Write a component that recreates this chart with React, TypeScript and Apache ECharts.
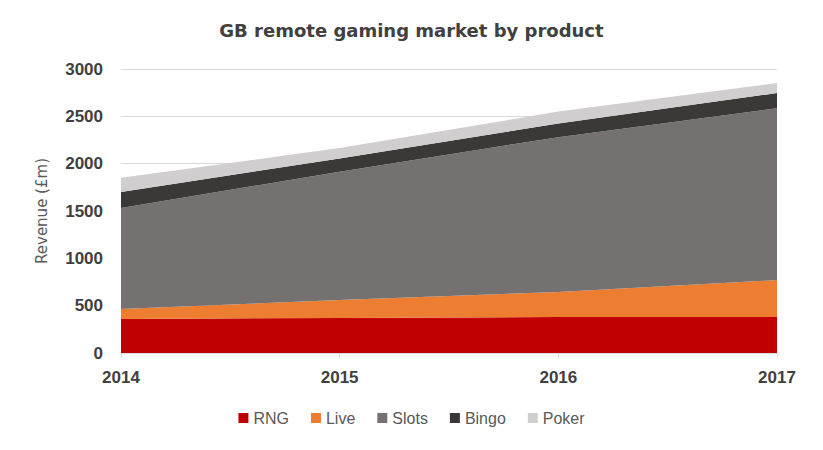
import React, { useEffect, useRef } from "react";
import * as echarts from "echarts";

const years = ["2014", "2015", "2016", "2017"];
const rng = [360, 370, 380, 380];
const live = [105, 190, 265, 390];
const slots = [1066, 1355, 1635, 1816];
const bingo = [170, 140, 145, 160];
const poker = [150, 110, 125, 105];

const seriesNames = ["RNG", "Live", "Slots", "Bingo", "Poker"];
const seriesColors = ["#C00000", "#ED7D31", "#767171", "#3B3838", "#D0CECE"];

export default function App() {
  const ref = useRef<HTMLDivElement>(null);
  useEffect(() => {
    if (!ref.current) return;
    const chart = echarts.init(ref.current, null, { renderer: "svg" });
    const data = [rng, live, slots, bingo, poker];
    chart.setOption({
      animation: false,
      backgroundColor: "#ffffff",
      title: {
        text: "GB remote gaming market by product",
        left: "center",
        top: 8,
        textStyle: {
          fontFamily: "DejaVu Sans",
          fontSize: 18,
          fontWeight: "bold",
          color: "#404040",
        },
      },
      legend: {
        top: 397,
        left: "center",
        itemWidth: 10,
        itemHeight: 10,
        itemGap: 22,
        icon: "rect",
        textStyle: {
          fontFamily: "Liberation Sans",
          fontSize: 16,
          color: "#595959",
        },
        data: seriesNames,
      },
      grid: { left: 113, right: 38, top: 61, bottom: 89 },
      xAxis: {
        type: "category",
        data: years,
        boundaryGap: false,
        axisLine: { lineStyle: { color: "#d9d9d9" } },
        axisTick: { show: true, length: 5, lineStyle: { color: "#d9d9d9" } },
        axisLabel: {
          fontFamily: "Liberation Sans",
          fontSize: 17,
          fontWeight: "bold",
          color: "#404040",
          margin: 16,
        },
      },
      yAxis: {
        type: "value",
        min: 0,
        max: 3000,
        interval: 500,
        name: "Revenue (£m)",
        nameLocation: "middle",
        nameGap: 72,
        nameTextStyle: {
          fontFamily: "DejaVu Sans",
          fontSize: 15,
          color: "#595959",
        },
        axisLine: { show: false },
        axisTick: { show: false },
        splitLine: { lineStyle: { color: "#d9d9d9" } },
        axisLabel: {
          fontFamily: "Liberation Sans",
          fontSize: 17,
          fontWeight: "bold",
          color: "#404040",
          margin: 18,
          formatter: (v: number) => String(v),
        },
      },
      series: seriesNames.map((name, i) => ({
        name,
        type: "line",
        stack: "total",
        data: data[i],
        symbol: "none",
        lineStyle: { width: 0 },
        areaStyle: { color: seriesColors[i], opacity: 1 },
        itemStyle: { color: seriesColors[i] },
      })),
    });
    return () => chart.dispose();
  }, []);
  return <div ref={ref} style={{ width: 807, height: 434 }} />;
}
